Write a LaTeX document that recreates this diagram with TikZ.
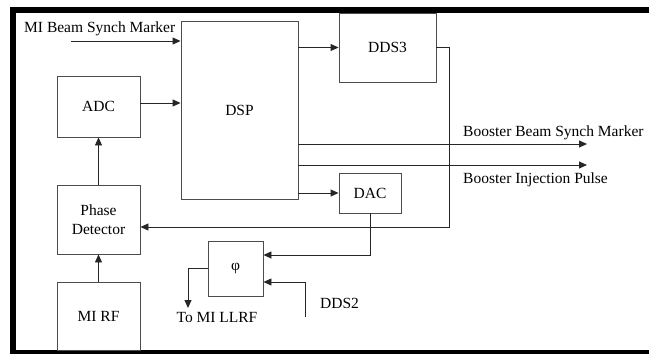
\documentclass[tikz,border=0pt]{standalone}
\usepackage{fontspec}
\setmainfont{Liberation Serif}
\usetikzlibrary{arrows.meta,calc}
\begin{document}
\begin{tikzpicture}[x=1pt,y=-1pt,
  every node/.style={font=\fontsize{15.5}{19}\selectfont},
  box/.style={draw=black!70,line width=0.9pt,inner sep=0pt,align=center},
  wire/.style={draw=black!85,line width=0.9pt},
  arr/.style={wire,-{Triangle[length=8pt,width=7pt]}},
  lbl/.style={inner sep=0pt,anchor=west}]
\useasboundingbox (0,0) rectangle (649,354);
% frame
\fill (10,7) rectangle (649,12.5);
\fill (10,7) rectangle (15.5,354);
\fill (10,350) rectangle (649,354);
% boxes
\node[box,minimum width=117pt,minimum height=178pt] (dsp) at (239.5,110) {DSP};
\node[box,minimum width=83pt,minimum height=61pt] (adc) at (98.5,106.5) {ADC};
\node[box,minimum width=97pt,minimum height=69pt] (dds3) at (387.5,47.5) {DDS3};
\node[box,minimum width=83pt,minimum height=69pt] (pd) at (98.5,219.5) {Phase\\Detector};
\node[box,minimum width=83pt,minimum height=68pt] (mirf) at (98.5,316) {MI RF};
\node[box,minimum width=55pt,minimum height=55pt] (phi) at (235.5,268.5) {φ};
\node[box,minimum width=62pt,minimum height=40pt] (dac) at (370,193) {DAC};
% labels
\node[lbl] (tmib) at (24,29) {MI Beam Synch Marker};
\node[lbl] (tbbs) at (463,133) {Booster Beam Synch Marker};
\node[lbl] (tbip) at (463,180) {Booster Injection Pulse};
\node[lbl] (tdds2) at (320,303) {DDS2};
\node[inner sep=0pt] (tllrf) at (217,317) {To MI LLRF};
% coordinates
\coordinate (mib) at (71,41);
\coordinate (c1) at (449,227);
\coordinate (c2) at (374,255);
\coordinate (o1) at (587,144);
\coordinate (o2) at (587,165);
\coordinate (d2) at (305,317);
\coordinate (d2b) at (305,282);
\coordinate (ll) at (188,308);
% connectors
\draw[arr] (mib) -- (mib -| dsp.west);
\draw[arr] (adc.east |- 0,103) -- (dsp.west |- 0,103);
\draw[arr] (pd.north) -- (adc.south);
\draw[arr] (mirf.north) -- (pd.south);
\draw[arr] (dsp.east |- dds3.west) -- (dds3.west);
\draw[arr] (dds3.east) -| (c1) -- (c1 -| pd.east);
\draw[arr] (dsp.east |- dac.west) -- (dac.west);
\draw[arr] (dac.south) |- (c2 -| phi.east);
\draw[arr] (o1 -| dsp.east) -- (o1);
\draw[arr] (o2 -| dsp.east) -- (o2);
\draw[arr] (d2) -- (d2b) -- (d2b -| phi.east);
\draw[arr] (phi.west) -| (ll);
\end{tikzpicture}
\end{document}
